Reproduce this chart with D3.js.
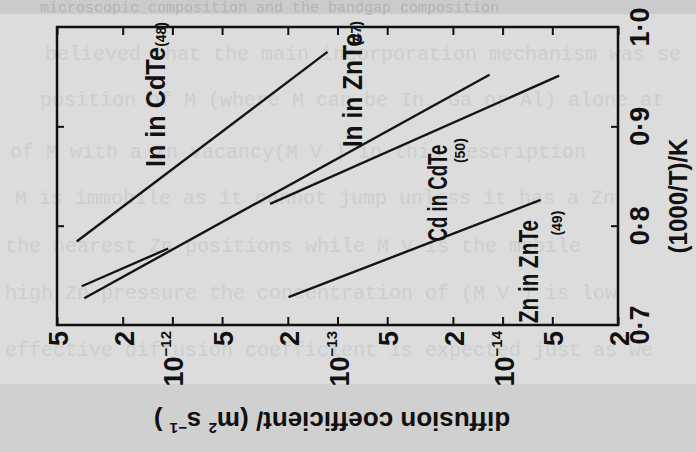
<!DOCTYPE html>
<html>
<head>
<meta charset="utf-8">
<script src="https://d3js.org/d3.v7.min.js"></script>
<style>
  body { margin: 0; background: #d0d0d0; }
  svg { display: block; }
  text.fig { font-family: "Liberation Sans", Arial, sans-serif; font-weight: bold; fill: #111; }
  text.page { font-family: "Liberation Mono", "DejaVu Sans Mono", monospace; }
</style>
</head>
<body>
<svg id="svg_diff" width="696" height="452"></svg>
<script>

// diffusion coefficient (m^2 s^-1) against 1000/T (K^-1), figure printed on its side
var D_ticks = [5e-12, 2e-12, 1e-12, 5e-13, 2e-13, 1e-13, 5e-14, 2e-14, 1e-14, 5e-15, 2e-15];
var D_tick_labels = [["5"], ["2"], ["10", "−12"], ["5"], ["2"], ["10", "−13"], ["5"], ["2"], ["10", "−14"], ["5"], ["2"]];
var T_ticks = [0.7, 0.8, 0.9, 1.0];
var T_tick_labels = ["0·7", "0·8", "0·9", "1·0"];

var series_names = ["In in CdTe", "In in ZnTe", "Cd in CdTe", "Zn in ZnTe"];
var series_refs = ["(48)", "(47)", "(50)", "(49)"];

// {D, t} where t = 1000/T ; null = gap in the drawn line
var in_cdte = [{D: 3.80e-12, t: 0.784}, {D: 1.15e-13, t: 0.975}];
var in_znte = [{D: 3.42e-12, t: 0.727}, {D: 1.20e-14, t: 0.952}];
var cd_cdte = [{D: 3.54e-12, t: 0.739}, {D: 1.06e-12, t: 0.777}, null, {D: 2.56e-13, t: 0.822}, {D: 4.54e-15, t: 0.951}];
var zn_znte = [{D: 1.98e-13, t: 0.728}, {D: 5.88e-15, t: 0.826}];

var all_series = [in_cdte, in_znte, cd_cdte, zn_znte];

// where the labels sit, in data units (main name, then reference number)
var label_at = [
  {D: 1.11e-12, t: 0.859, len: 120, rD: 1.09e-12, rt: 0.980},
  {D: 7.11e-14, t: 0.879, len: 114, rD: 7.2e-14, rt: 0.981},
  {D: 2.17e-14, t: 0.784, len: 97, rD: 1.69e-14, rt: 0.863},
  {D: 6.1e-15, t: 0.702, len: 103, rD: 4.36e-15, rt: 0.790}
];

// typescript of the page showing through the scan
var page_lines = [
  "microscopic composition and the bandgap composition",
  "believed that the main incorporation mechanism was se",
  "position of M   (where M can be In, Ga or Al) alone at",
  "of M   with a Zn vacancy(M   V  ) in this description",
  "M   is immobile as it cannot jump unless it has a Zn",
  "the nearest Zn positions while M   V   is the mobile",
  "high Zn pressure the concentration of (M   V  ) is low",
  "effective diffusion coefficient is expected just as we"
];
var page_line_y = [12, 60, 106, 158, 204, 252, 299, 356];
var page_line_x = [40, 45, 40, 10, 15, 5, 5, 5];

var svg = d3.select("#svg_diff");

// page of the scan
svg.append("rect").attr("x", 0).attr("y", 0).attr("width", 696).attr("height", 14).attr("fill", "#cbcbcb");
svg.append("rect").attr("x", 0).attr("y", 14).attr("width", 696).attr("height", 370).attr("fill", "#dcdcdc");

svg.selectAll("text.page")
  .data(page_lines)
  .enter()
  .append("text")
  .attr("class", "page")
  .attr("x", function(d, i) { return page_line_x[i]; })
  .attr("y", function(d, i) { return page_line_y[i]; })
  .attr("font-size", function(d, i) { return i == 0 ? "15px" : "20px"; })
  .attr("fill", function(d, i) { return i == 0 ? "#b4b4b4" : "#cecece"; })
  .text(function(d) { return d; });

var p_left = 57, p_right = 618, p_top = 27, p_bottom = 325;

var x = d3.scaleLog()
    .domain([5e-12, 2e-15])
    .range([p_left, p_right]);

var y = d3.scaleLinear()
    .domain([0.7, 1.0])
    .range([p_bottom, p_top]);

// ticks on all four sides, pointing in
function style_axis(g) {
  g.select(".domain").remove();
  g.selectAll(".tick line").attr("stroke", "#111").attr("stroke-width", 2);
}

svg.append("g").attr("transform", "translate(0," + p_bottom + ")")
  .call(d3.axisBottom(x).tickValues(D_ticks).tickSize(-8).tickFormat(""))
  .call(style_axis);
svg.append("g").attr("transform", "translate(0," + p_top + ")")
  .call(d3.axisTop(x).tickValues(D_ticks).tickSize(-8).tickFormat(""))
  .call(style_axis);
svg.append("g").attr("transform", "translate(" + p_left + ",0)")
  .call(d3.axisLeft(y).tickValues([0.8, 0.9]).tickSize(-7).tickFormat(""))
  .call(style_axis);
svg.append("g").attr("transform", "translate(" + p_right + ",0)")
  .call(d3.axisRight(y).tickValues([0.8, 0.9]).tickSize(-7).tickFormat(""))
  .call(style_axis);

svg.append("rect")
  .attr("x", p_left).attr("y", p_top)
  .attr("width", p_right - p_left).attr("height", p_bottom - p_top)
  .attr("fill", "none").attr("stroke", "#111").attr("stroke-width", 2.5);

// diffusion lines
var line = d3.line()
    .defined(function(d) { return d !== null; })
    .x(function(d) { return x(d.D); })
    .y(function(d) { return y(d.t); });

svg.selectAll("path.series")
  .data(all_series)
  .enter()
  .append("path")
  .attr("class", "series")
  .attr("fill", "none")
  .attr("stroke", "#141414")
  .attr("stroke-width", 2.4)
  .attr("d", line);

// tick labels, turned with the page
var d_lab = svg.selectAll("text.dlab")
  .data(D_ticks)
  .enter()
  .append("text")
  .attr("class", "fig dlab")
  .attr("transform", function(d) { return "translate(" + (x(d) + 11) + ",331) rotate(-90)"; })
  .attr("text-anchor", "end")
  .attr("font-size", "27px");

d_lab.each(function(d, i) {
  var parts = D_tick_labels[i];
  var t = d3.select(this);
  t.append("tspan").text(parts[0]);
  if (parts.length > 1) {
    t.append("tspan").attr("font-size", "15px").attr("dy", "-12").text(parts[1]);
  }
});

svg.selectAll("text.tlab")
  .data(T_ticks)
  .enter()
  .append("text")
  .attr("class", "fig tlab")
  .attr("transform", function(d) { return "translate(649," + y(d) + ") rotate(-90)"; })
  .attr("text-anchor", "middle")
  .attr("font-size", "27px")
  .text(function(d, i) { return T_tick_labels[i]; });

// axis titles
svg.append("text")
  .attr("class", "fig")
  .attr("transform", "translate(687,196) rotate(-90)")
  .attr("text-anchor", "middle")
  .attr("font-size", "25px")
  .attr("textLength", 115)
  .attr("lengthAdjust", "spacingAndGlyphs")
  .text("(1000/T)/K");

var ytitle = svg.append("text")
  .attr("class", "fig")
  .attr("transform", "translate(332,412) rotate(180)")
  .attr("text-anchor", "middle")
  .attr("font-size", "26px");
ytitle.append("tspan").text("diffusion coefficient/ (m");
ytitle.append("tspan").attr("font-size", "15px").attr("dy", "-11").text("2");
ytitle.append("tspan").attr("dy", "11").text(" s");
ytitle.append("tspan").attr("font-size", "15px").attr("dy", "-11").text("−1");
ytitle.append("tspan").attr("dy", "11").text(" )");

// line labels
svg.selectAll("text.name")
  .data(label_at)
  .enter()
  .append("text")
  .attr("class", "fig name")
  .attr("transform", function(d) { return "translate(" + x(d.D) + "," + y(d.t) + ") rotate(-90)"; })
  .attr("font-size", "27px")
  .attr("textLength", function(d) { return d.len; })
  .attr("lengthAdjust", "spacingAndGlyphs")
  .text(function(d, i) { return series_names[i]; });

svg.selectAll("text.ref")
  .data(label_at)
  .enter()
  .append("text")
  .attr("class", "fig ref")
  .attr("transform", function(d) { return "translate(" + x(d.rD) + "," + y(d.rt) + ") rotate(-90)"; })
  .attr("font-size", "14px")
  .text(function(d, i) { return series_refs[i]; });

</script>
</body>
</html>
